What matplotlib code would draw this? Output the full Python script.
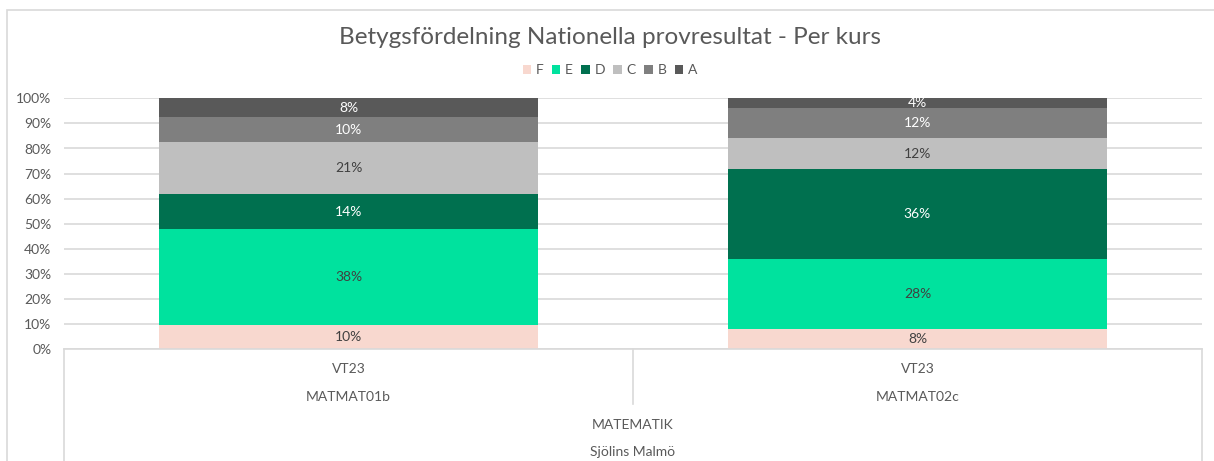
import matplotlib.pyplot as plt
import matplotlib.transforms as mtransforms
from matplotlib.patches import Rectangle
from matplotlib.lines import Line2D

plt.rcParams['font.family'] = ['Lato', 'DejaVu Sans']

kurser = ["MATMAT01b", "MATMAT02c"]
termin = ["VT23", "VT23"]
amne = "MATEMATIK"
skola = "Sjölins Malmö"
betyg = ["F", "E", "D", "C", "B", "A"]
# andelar i procent per betyg (F..A) per kurs
andel_01b = [9.8, 38.0, 14.1, 20.7, 9.8, 7.6]
andel_02c = [8.0, 28.0, 36.0, 12.0, 12.0, 4.0]
etiketter_01b = ["10%", "38%", "14%", "21%", "10%", "8%"]
etiketter_02c = ["8%", "28%", "36%", "12%", "12%", "4%"]

farger = ["#F8D8CF", "#00E29E", "#00704F", "#BFBFBF", "#7F7F7F", "#595959"]
textfarg = ["#404040", "#404040", "white", "#404040", "white", "white"]
gra = "#595959"

W, H = 1214, 461
fig = plt.figure(figsize=(W / 100, H / 100), dpi=100)
ax = fig.add_axes([64 / W, 1 - 349.3 / H, (1202 - 64) / W, (349.3 - 98.3) / H])

x = [0, 1]
botten = [0, 0]
for i, b in enumerate(betyg):
    varden = [andel_01b[i], andel_02c[i]]
    ax.bar(x, varden, bottom=botten, width=0.667, color=farger[i], label=b, zorder=2)
    for j in range(2):
        lab = [etiketter_01b, etiketter_02c][j][i]
        ax.text(x[j], botten[j] + varden[j] / 2, lab, ha="center", va="center",
                fontsize=10, color=textfarg[i], zorder=3)
    botten = [botten[k] + varden[k] for k in range(2)]

ax.set_xlim(-0.5, 1.5)
ax.set_ylim(0, 100)
ax.set_yticks(range(0, 101, 10))
ax.set_yticklabels([f"{v}%" for v in range(0, 101, 10)], fontsize=10, color=gra)
ax.tick_params(axis="y", length=0, pad=9)
ax.set_xticks([])
ax.grid(axis="y", color="#D9D9D9", linewidth=1.2, zorder=0)
for s in ax.spines.values():
    s.set_visible(False)

# tabell under axeln
tr = mtransforms.blended_transform_factory(ax.transData, fig.transFigure)
def fy(py):
    return 1 - py / H
lc = "#D9D9D9"
fig.add_artist(Line2D([-0.5, 1.5], [fy(349.3), fy(349.3)], transform=tr, color=lc, lw=1.2))
fig.add_artist(Line2D([-0.5, -0.5], [fy(349.3), 0], transform=tr, color=lc, lw=1.2))
fig.add_artist(Line2D([1.5, 1.5], [fy(349.3), 0], transform=tr, color=lc, lw=1.2))
fig.add_artist(Line2D([0.5, 0.5], [fy(349.3), fy(404)], transform=tr, color=lc, lw=1.2))
for j in range(2):
    fig.text(x[j], fy(369), termin[j], transform=tr, ha="center", va="center", fontsize=10, color=gra)
    fig.text(x[j], fy(397), kurser[j], transform=tr, ha="center", va="center", fontsize=10, color=gra)
fig.text(0.5, fy(425), amne, transform=tr, ha="center", va="center", fontsize=10, color=gra)
fig.text(0.5, fy(452), skola, transform=tr, ha="center", va="center", fontsize=10, color=gra)

# diagramram
fig.add_artist(Rectangle((7 / W, -0.05), 1.1, fy(10) + 0.05, transform=fig.transFigure,
                         fill=False, edgecolor="#D9D9D9", lw=1.2))

fig.text(610 / W, fy(38), "Betygsfördelning Nationella provresultat - Per kurs",
         ha="center", va="center", fontsize=17.5, color=gra)
ax.legend(loc="center", bbox_to_anchor=(610 / W, fy(70)), bbox_transform=fig.transFigure,
          ncol=6, frameon=False, fontsize=10, labelcolor=gra, handlelength=0.6,
          handleheight=0.6, handletextpad=0.35, columnspacing=0.6)

fig.savefig("out.png", dpi=100)
